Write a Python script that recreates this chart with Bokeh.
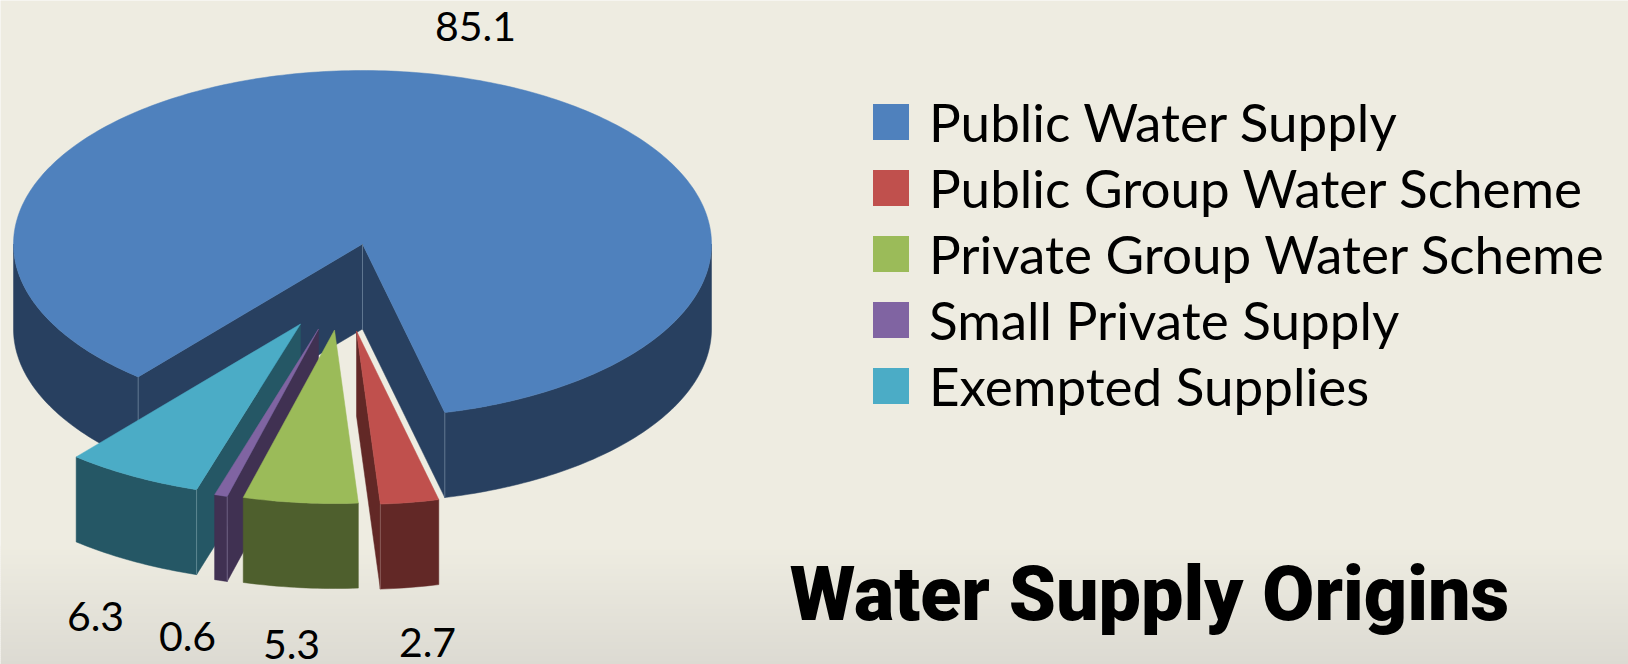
import numpy as np
from bokeh.core.properties import value
from bokeh.embed import file_html
from bokeh.models import Legend, LegendItem
from bokeh.plotting import figure
from bokeh.resources import INLINE

# Shares of drinking water by supply type (percent)
categories = [
    "Public Water Supply",
    "Public Group Water Scheme",
    "Private Group Water Scheme",
    "Small Private Supply",
    "Exempted Supplies",
]
shares = [85.1, 2.7, 5.3, 0.6, 6.3]
title_text = "Water Supply Origins"

top_colors = ["#4F81BD", "#C0504D", "#9BBB59", "#8064A2", "#4BACC6"]
wall_colors = ["#284060", "#622826", "#4E5F2D", "#403152", "#255765"]
seam_colors = ["#5F7690", "#8A5A58", "#4E5F2D", "#6E6284", "#5E8792"]

W, H = 1628, 664
BG = (238, 236, 225)
BG_LOW = (220, 218, 210)

# Tilted-disc projection
CX, CY = 362.0, 243.5
RX, RY = 349.0, 173.5
DEPTH = 85.0
START_DEG = 220.0  # clockwise from twelve o'clock, where the first slice begins

# Shift of each slice's tip away from the disc centre
explode = [(0, 0), (-6, 87), (-28, 86), (-44, 85), (-62, 80)]

# Where each slice's value label sits
label_pos = [(475, 26), (427, 642), (291, 644), (187, 636), (95, 616)]

p = figure(
    width=W, height=H, x_range=(0, W), y_range=(H, 0),
    toolbar_location=None, output_backend="svg", min_border=0,
    background_fill_color="#EEECE1", border_fill_color="#EEECE1",
    outline_line_color=None,
)
p.axis.visible = False
p.grid.visible = False

# Soft darkening along the lower edge of the slide
band_tops = np.arange(545, H, 2)
band_mix = (band_tops - 545) / (H - 545)
band_colors = [
    "#%02X%02X%02X" % tuple(int(round(a + (b - a) * m)) for a, b in zip(BG, BG_LOW))
    for m in band_mix
]
p.quad(left=0, right=W, top=band_tops, bottom=band_tops + 2.5,
       fill_color=band_colors, line_color=None)


def rim(deg, cx, cy):
    a = np.radians(deg)
    return cx + RX * np.sin(a), cy - RY * np.cos(a)


def arc_points(a0, a1, cx, cy):
    ts = np.linspace(a0, a1, max(3, int(abs(a1 - a0)) + 2))
    return rim(ts, cx, cy)


def front_ranges(a0, a1):
    """Parts of [a0, a1] on the viewer's side of the disc (90..270 plus whole turns)."""
    out = []
    for k in (0, 1):
        lo, hi = max(a0, 90 + 360 * k), min(a1, 270 + 360 * k)
        if hi > lo:
            out.append((lo, hi))
    return out


def draw_slice(a0, a1, tip, top_c, wall_c, seam_c):
    cx, cy = tip
    seams = []

    # Cut faces are visible only when their outward side turns toward the viewer
    if np.sin(np.radians(a0)) < 0:
        x, y = rim(a0, cx, cy)
        p.patch([cx, x, x, cx], [cy, y, y + DEPTH, cy + DEPTH],
                fill_color=wall_c, line_color=wall_c, line_width=0.5)
        seams.append((x, y))
    if np.sin(np.radians(a1)) > 0:
        x, y = rim(a1, cx, cy)
        p.patch([cx, x, x, cx], [cy, y, y + DEPTH, cy + DEPTH],
                fill_color=wall_c, line_color=wall_c, line_width=0.5)
        seams.append((x, y))
    if len(seams) == 2:
        seams.append((cx, cy))

    # Outer rim
    for lo, hi in front_ranges(a0, a1):
        xs, ys = arc_points(lo, hi, cx, cy)
        p.patch(np.r_[xs, xs[::-1]], np.r_[ys, ys[::-1] + DEPTH],
                fill_color=wall_c, line_color=wall_c, line_width=0.5)

    # Top face
    xs, ys = arc_points(a0, a1, cx, cy)
    p.patch(np.r_[cx, xs], np.r_[cy, ys],
            fill_color=top_c, line_color=top_c, line_width=0.5)

    for x, y in seams:
        p.line([x, x], [y, y + DEPTH], line_color=seam_c, line_width=1)


spans = [s / sum(shares) * 360.0 for s in shares]
ends = START_DEG + np.cumsum(spans)
starts = ends - np.array(spans)
# Detached slices are expressed within the first turn
bounds = [(starts[0], ends[0])] + [(a - 360, b - 360) for a, b in zip(starts[1:], ends[1:])]

# The main slice first, then the detached ones from back-left to front-right
for i in [0, 4, 3, 2, 1]:
    tip = (CX + explode[i][0], CY + explode[i][1])
    draw_slice(*bounds[i], tip, top_colors[i], wall_colors[i], seam_colors[i])

# Value labels
p.text(
    x=[q[0] for q in label_pos], y=[q[1] for q in label_pos],
    text=[f"{s:.1f}" for s in shares],
    text_font=value("Lato"), text_font_size="41px", text_color="#000000",
    text_align="center", text_baseline="middle",
)

# Legend swatches share the slice colours
swatches = [
    p.rect(x=[-100], y=[-100], width=10, height=10, fill_color=c, line_color=None)
    for c in top_colors
]
legend = Legend(
    items=[LegendItem(label=value(c), renderers=[r]) for c, r in zip(categories, swatches)],
    location=(868, 247), orientation="vertical",
    padding=0, margin=0, spacing=3,
    glyph_width=45, glyph_height=45, label_standoff=16,
    label_text_font="Lato", label_text_font_size="53px", label_text_color="#000000",
    background_fill_alpha=0, border_line_color=None,
)
p.add_layout(legend, "center")

# Slide heading
p.text(
    x=[1149], y=[593], text=[title_text],
    text_font=value("Roboto Black"), text_font_style="bold", text_font_size="75.5px",
    text_color="#000000", text_align="center", text_baseline="middle",
)

html = file_html(p, INLINE)
with open("out.html", "w") as fh:
    fh.write(html)
